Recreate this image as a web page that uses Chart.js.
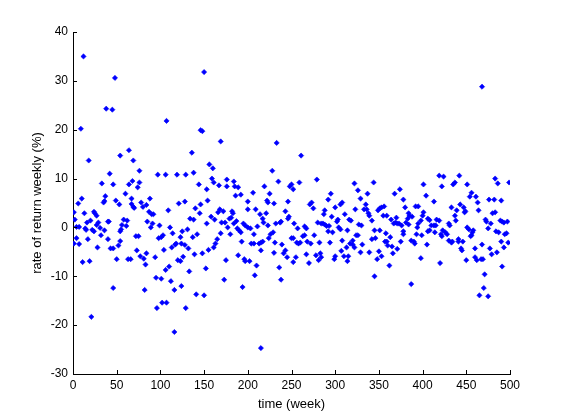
<!DOCTYPE html>
<html lang="en">
<head>
    <meta charset="UTF-8">
    <title>rate of return weekly</title>
    <style>
        html, body { margin: 0; padding: 0; background: #fff; }
        #chart { display: block; }
    </style>
    <script src="https://cdn.jsdelivr.net/npm/chart.js@4/dist/chart.umd.min.js"></script>
</head>
<body>
    <canvas id="chart" width="561" height="420"></canvas>
    <script>
        // weekly returns (%), in columns of the plot from left to right
        const weeks = [
            12, 48, 38, 45, 9, 54, 18, 42, 33, 46, 60, 37, 10, 49, 36, 35, 6, 53, 1, 13,
            24, 25, 27, 2, 16, 20, 29, 40, 41, 58, 62, 4, 7, 14, 27, 31, 56, 61, 15, 22,
            24, 36, 55, 54, 32, 4, 17, 40, 1, 7, 54, 52, 28, 43, 46, 11, 19, 50, 63, 46, 21,
            64, 64, 67, 66, 68, 69, 67, 69, 70, 74, 76, 76, 78, 80, 84, 88, 72, 75, 73, 77,
            81, 84, 83, 82, 87, 90, 92, 85, 89, 91, 94, 97, 106, 119, 107, 99, 98, 101, 103,
            95, 101, 96, 102, 107, 104, 106, 110, 111, 109, 112, 116, 116, 114, 113, 117, 118, 120, 121, 123, 124,
            150, 146, 148, 169, 136, 156, 160, 129, 138, 144, 159, 161, 167, 176, 176, 184, 185, 153, 128, 154,
            146, 140, 145, 134, 138, 153, 125, 131, 137, 142, 158, 162, 166, 168, 172, 170, 174, 169, 179, 181,
            182, 183, 177, 180, 184, 187, 188, 124, 128, 132, 126, 123, 133, 139, 148, 155, 161, 163, 165, 152,
            141, 150, 129, 173, 175, 189, 186,
            233, 228, 235, 189, 192, 206, 219, 225, 248, 250, 252, 200, 222, 223, 230, 246, 200, 209, 214, 221,
            243, 195, 197, 200, 203, 217, 218, 223, 211, 207, 232, 237, 238, 246, 247, 190, 192, 193, 204, 207,
            213, 215, 217, 224, 226, 229, 231, 239, 243, 250, 252, 241, 245, 196, 197, 202, 210, 208, 215, 230,
            236, 238, 194, 215,
            261, 279, 259, 295, 292, 271, 273, 275, 306, 308, 300, 288, 287, 296, 311, 253, 257, 265, 267, 280,
            284, 286, 288, 290, 293, 302, 303, 304, 306, 292, 297, 314, 256, 258, 260, 263, 265, 268, 272, 276,
            282, 294, 308, 313, 252, 255, 267, 270, 278, 281, 283, 284, 299, 300, 307, 310, 315,
            322, 344, 326, 337, 329, 368, 374, 378, 323, 335, 333, 336, 338, 339, 342, 349, 351, 353, 356, 355,
            359, 316, 318, 327, 330, 326, 324, 345, 351, 364, 370, 367, 369, 371, 373, 358, 363, 378, 320, 317,
            320, 322, 331, 342, 346, 357, 359, 360, 365, 375, 371, 366, 314, 329, 339, 350, 348, 353, 362, 345,
            419, 424, 401, 422, 435, 437, 404, 413, 380, 392, 395, 433, 439, 384, 385, 388, 383, 381, 384, 376,
            401, 400, 398, 395, 394, 406, 408, 416, 419, 410, 413, 415, 408, 414, 406, 399, 393, 423, 426, 428,
            421, 422, 430, 431, 437, 438, 378, 387, 390, 391, 405, 430, 433, 434, 441, 398, 420, 387,
            468, 442, 451, 483, 486, 499, 456, 454, 461, 463, 476, 482, 490, 443, 447, 449, 448, 464, 480, 483,
            472, 473, 478, 489, 491, 493, 497, 475, 451, 453, 458, 457, 484, 487, 494, 496, 456, 455, 441, 446,
            468, 490, 498, 444, 445, 460, 477, 493, 485, 479, 450, 460, 462, 467, 469, 491, 471, 470, 465, 475
        ];
        const returns = [
            35.0, 30.6, 24.3, 24.1, 20.2, 14.7, 13.7, 11.0, 9.0, 8.8, 6.9, 6.4, 5.9, 5.5, 5.4, 5.1, 4.9, 4.7, 3.1, 2.9,
            3.2, 2.9, 2.4, 1.6, 1.0, 1.4, 1.0, 1.2, 1.2, 1.6, 1.4, 0.1, 0.1, -0.2, 0.5, -0.1, 0.5, 0.3, -0.5, -0.5,
            -0.8, -0.6, -0.4, -0.8, -1.6, -2.2, -2.4, -2.4, -3.3, -3.4, -2.8, -3.7, -4.1, -4.3, -4.3, -7.1, -6.9, -6.5, -6.5, -12.4, -18.3,
            15.8, 8.8, 5.9, -6.5, 9.5, 13.7, 4.8, 4.2, 4.0, 8.2, 11.6, 9.2, 5.1, 4.2, 4.6, 5.9, -1.8, -1.8, -4.7, -5.9,
            -6.4, -5.3, -7.6, -12.8, 3.2, 2.7, 2.7, 1.2, 0.0, 0.8, -6.1, 10.8, 10.8, 10.8, 21.8, 0.4, -2.2, -2.0, -1.6,
            -10.3, -10.5, -16.5, -15.4, -15.4, -4.6, -8.7, -8.0, 0.0, 3.5, -11.0, -12.8, -21.4, -1.2, -4.1, -3.5, -3.3, -6.7, 4.9, -2.0, -12.0,
            31.8, 19.9, 19.7, 17.6, 15.3, 12.9, 12.1, 10.8, 11.2, 8.8, 10.0, 9.2, 8.6, 9.8, 8.4, 9.4, 8.4, 7.8, 5.3, 5.5,
            4.7, 3.9, 2.9, 1.8, 1.6, 0.8, -0.8, -0.4, -2.0, -1.4, 2.2, 1.6, 3.1, 3.7, 3.3, 1.0, 1.0, -1.2, 1.8, 2.0,
            3.3, 2.9, 0.0, -1.4, 0.8, 1.3, -0.2, -3.3, -3.6, -4.3, -6.0, -6.9, -9.0, -5.5, -5.3, -4.6, -4.1, -3.3, -2.4, -8.4,
            -13.7, -13.9, -16.5, -10.7, -6.7, -5.7, 6.5,
            17.3, 11.6, 9.4, 8.2, 6.7, 7.1, 8.4, 6.9, 8.4, 8.8, 7.8, 5.3, 5.5, 5.1, 4.9, 5.3, 3.7, 3.7, 2.7, 2.9,
            3.3, 0.8, 0.4, 0.0, -0.2, 1.8, 1.0, 0.4, 0.2, -1.4, 0.8, 1.0, 1.2, 1.8, 2.2, -0.6, -1.0, -2.9, -3.3, -3.3,
            -3.3, -3.1, -2.9, -2.2, -1.4, -1.0, -3.1, -3.5, -4.7, -2.2, -2.2, -5.3, -6.1, -6.5, -6.9, -6.9, -7.8, -9.8, -4.7, -5.2,
            -8.2, -10.7, -12.2, -24.7,
            14.7, 9.8, 9.2, 6.9, 5.7, 4.7, 5.1, 3.9, 4.7, 5.1, 4.1, 3.5, 2.7, 2.2, 2.7, 0.8, -0.2, 0.2, -0.2, 1.0,
            0.8, 0.8, 0.6, 0.3, 0.3, 1.2, 1.6, 0.0, -0.4, -0.8, -1.0, -0.6, -3.1, -3.3, -3.1, -1.8, -1.6, -2.9, -3.3, -1.6,
            -3.1, -3.1, -2.7, -4.1, -7.1, -6.1, -5.5, -7.3, -5.7, -6.7, -5.3, -6.1, -6.5, -5.9, -4.8, -5.9, -5.9,
            9.0, 9.2, 7.6, 6.9, 5.9, 6.9, 7.8, 5.7, 3.7, 4.7, 3.7, 3.7, 2.9, 2.4, 1.4, 3.5, 3.9, 4.1, 4.3, 2.4,
            2.4, 1.6, 1.4, 0.6, 0.4, -1.6, -1.6, -0.6, -0.6, 1.6, 2.0, 0.8, 1.0, 0.8, 0.8, -1.2, -2.0, -1.4, -2.7, -3.3,
            -3.5, -4.1, -3.5, -2.4, -2.2, -2.9, -2.9, -3.7, -3.9, -2.9, -4.4, -5.3, -6.9, -5.1, -5.1, -4.9, -6.5, -5.9, -7.8, -10.0,
            10.6, 10.4, 8.8, 8.4, 8.8, 9.2, 6.5, 5.3, 4.1, 4.3, 4.3, 4.1, 3.5, 2.9, 2.4, 2.2, 1.8, 1.0, 0.6, 0.4,
            3.1, 2.4, 1.4, 0.8, 0.0, 1.8, 1.5, 1.6, 1.4, 0.4, 0.4, 0.4, -0.6, -1.0, -0.8, -1.6, -1.4, -0.6, -1.0, -1.4,
            -1.4, -1.8, 0.8, 0.4, 2.4, 1.4, -0.8, -2.7, -2.9, -3.3, -3.5, -2.7, -3.1, -2.9, -2.4, -6.3, -7.3, -11.6,
            28.8, 10.6, 8.8, 10.0, 9.0, 9.2, 7.1, 6.3, 6.3, 5.1, 5.7, 5.7, 5.5, 4.7, 4.1, 3.3, 3.1, 3.5, 2.9, 3.1,
            1.6, 1.2, 0.8, 1.4, 1.2, 1.0, 1.2, -0.2, 0.0, -0.4, -0.6, -1.0, -0.8, -1.0, -1.4, -1.2, -1.6, -1.8, -2.9, -2.9,
            -3.5, -2.9, -3.1, -4.3, -4.7, -4.3, -4.3, -4.1, -5.1, -5.5, -6.7, -6.1, -6.7, -6.5, -6.5, -8.0, -9.6, -12.4, -13.9, -14.1
        ];
        const xTicks = [0, 50, 100, 150, 200, 250, 300, 350, 400, 450, 500];
        const yTicks = [-30, -20, -10, 0, 10, 20, 30, 40];

        const points = weeks.map((w, i) => ({ x: w, y: returns[i] }));
        const fontFamily = '"Liberation Sans", Arial, Helvetica, sans-serif';

        // MATLAB style: short ticks pointing into the plot
        const inwardTicks = {
            id: 'inwardTicks',
            afterDraw(chart) {
                const ctx = chart.ctx;
                const xs = chart.scales.x, ys = chart.scales.y;
                const area = chart.chartArea;
                ctx.save();
                ctx.strokeStyle = '#000';
                ctx.lineWidth = 1;
                ctx.beginPath();
                xTicks.forEach(v => {
                    const px = Math.round(xs.getPixelForValue(v)) + 0.5;
                    ctx.moveTo(px, area.bottom);
                    ctx.lineTo(px, area.bottom - 4);
                });
                yTicks.forEach(v => {
                    const py = Math.round(ys.getPixelForValue(v)) + 0.5;
                    ctx.moveTo(area.left, py);
                    ctx.lineTo(area.left + 4, py);
                });
                ctx.stroke();
                ctx.restore();
            }
        };

        new Chart(document.getElementById('chart'), {
            type: 'scatter',
            data: {
                datasets: [{
                    data: points,
                    pointStyle: 'rectRot',
                    pointRadius: 2.6,
                    pointBorderWidth: 0.6,
                    backgroundColor: '#0000ff',
                    borderColor: '#0000ff'
                }]
            },
            options: {
                responsive: false,
                animation: false,
                devicePixelRatio: 1,
                layout: { padding: { top: 32, right: 51, left: 0, bottom: 0 } },
                plugins: { legend: { display: false }, tooltip: { enabled: false } },
                scales: {
                    x: {
                        type: 'linear',
                        min: 0, max: 500,
                        afterFit: s => { s.height = 46; },
                        afterBuildTicks: s => { s.ticks = xTicks.map(v => ({ value: v })); },
                        grid: { display: true, drawOnChartArea: false, drawTicks: false },
                        border: { display: true, color: '#000', width: 1 },
                        ticks: { color: '#000', padding: 4, autoSkip: false, maxRotation: 0, font: { family: fontFamily, size: 12 } },
                        title: { display: true, text: 'time (week)', color: '#000', padding: { top: 0, bottom: 8 }, font: { family: fontFamily, size: 13 } }
                    },
                    y: {
                        min: -30, max: 40,
                        afterFit: s => { s.width = 73; },
                        afterBuildTicks: s => { s.ticks = yTicks.map(v => ({ value: v })); },
                        grid: { display: true, drawOnChartArea: false, drawTicks: false },
                        border: { display: true, color: '#000', width: 1 },
                        ticks: { color: '#000', padding: 5, font: { family: fontFamily, size: 12 } },
                        title: { display: true, text: 'rate of return weekly (%)', color: '#000', padding: { top: 30, bottom: 0 }, font: { family: fontFamily, size: 13 } }
                    }
                }
            },
            plugins: [inwardTicks]
        });
    </script>
</body>
</html>
